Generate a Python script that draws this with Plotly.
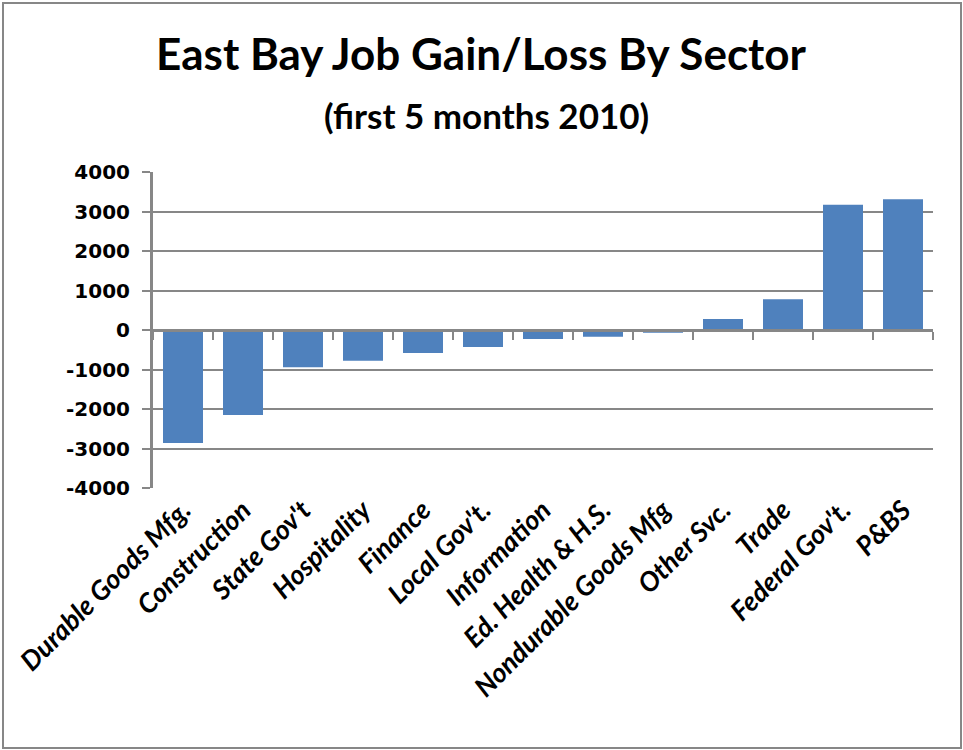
import plotly.graph_objects as go

# Job change by sector, first 5 months of 2010
sectors = [
    "Durable Goods Mfg.", "Construction", "State Gov't", "Hospitality",
    "Finance", "Local Gov't.", "Information", "Ed. Health & H.S.",
    "Nondurable Goods Mfg", "Other Svc.", "Trade", "Federal Gov't.", "P&BS",
]
job_change = [-2860, -2150, -940, -780, -580, -430, -230, -170, -70, 280, 780, 3170, 3310]

y_ticks = [-4000, -3000, -2000, -1000, 0, 1000, 2000, 3000, 4000]
y_tick_labels = ["-4000", "-3000", "-2000", "-1000", "0", "1000", "2000", "3000", "4000"]

GRAY = "#878787"
BAR = "#4f81bd"

fig = go.Figure()
fig.add_trace(go.Bar(
    x=sectors, y=job_change,
    marker=dict(color=BAR, line=dict(width=0)),
    hoverinfo="x+y",
))
# helper trace so the zero-line axis carries the category ticks
fig.add_trace(go.Scatter(
    x=sectors, y=job_change, xaxis="x2", mode="markers",
    marker=dict(opacity=0), hoverinfo="skip", showlegend=False,
))

fig.update_layout(
    width=963, height=750,
    margin=dict(l=153, r=30, t=172, b=262),
    paper_bgcolor="white", plot_bgcolor="white",
    showlegend=False,
    bargap=1/3,
    title=dict(
        text="East Bay Job Gain/Loss By Sector",
        x=0.4995, xanchor="center", xref="container",
        y=1 - 55/750, yanchor="middle", yref="container",
        font=dict(family="Lato", size=44, color="black", weight="bold"),
    ),
    annotations=[dict(
        text="(first 5 months 2010)", xref="paper", yref="paper",
        x=(486 - 153) / 780, y=(488 - 115) / 316,
        xanchor="center", yanchor="middle", showarrow=False,
        font=dict(family="Lato", size=35, color="black", weight="bold"),
    )],
    xaxis=dict(
        type="category", categoryorder="array", categoryarray=sectors,
        range=[-0.5, len(sectors) - 0.5],
        showline=False, showgrid=False, ticks="", tickangle=-45,
        tickfont=dict(family="Lato", size=27, color="black", weight="bold", style="italic"),
    ),
    xaxis2=dict(
        type="category", categoryorder="array", categoryarray=sectors,
        range=[-0.5, len(sectors) - 0.5],
        overlaying="x", anchor="free", position=0.5,
        showline=True, linecolor=GRAY, linewidth=3,
        ticks="outside", tickson="boundaries", ticklen=8, tickwidth=2, tickcolor=GRAY,
        showticklabels=False, showgrid=False,
    ),
    yaxis=dict(
        range=[-4000, 4000], tickvals=y_ticks, ticktext=y_tick_labels,
        showline=True, linecolor=GRAY, linewidth=3,
        showgrid=True, gridcolor=GRAY, gridwidth=2,
        zeroline=False,
        ticks="outside", ticklen=8, tickwidth=2, tickcolor=GRAY,
        ticklabelstandoff=8,
        tickfont=dict(family="DejaVu Sans", size=20, color="black", weight="bold"),
    ),
    shapes=[dict(
        type="rect", xref="paper", yref="paper",
        x0=(3 - 153) / 780, x1=(961 - 153) / 780,
        y0=(488 - 748) / 316, y1=(488 - 3) / 316,
        line=dict(color=GRAY, width=2), fillcolor="rgba(0,0,0,0)", layer="below",
    )],
)

fig.write_html("out.html")
